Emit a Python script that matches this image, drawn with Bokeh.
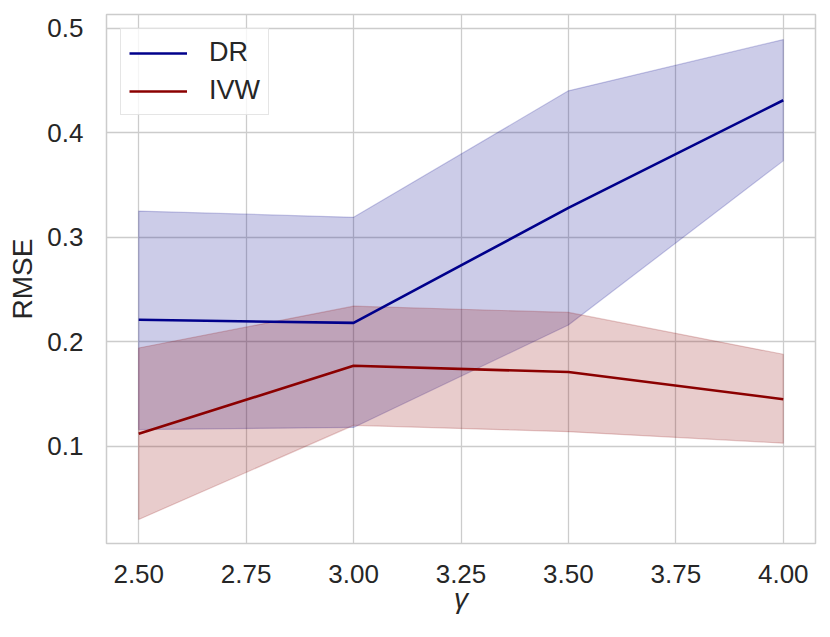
from bokeh.plotting import figure
from bokeh.models import Range1d, FixedTicker, NumeralTickFormatter, Legend, LegendItem
from bokeh.embed import file_html
from bokeh.resources import INLINE

# ---- data ----
gamma = [2.5, 3.0, 3.5, 4.0]
dr_mean = [0.221, 0.218, 0.328, 0.431]
dr_upper = [0.325, 0.319, 0.440, 0.489]
dr_lower = [0.116, 0.118, 0.216, 0.373]
ivw_mean = [0.112, 0.177, 0.171, 0.145]
ivw_upper = [0.194, 0.234, 0.228, 0.188]
ivw_lower = [0.030, 0.120, 0.114, 0.103]
x_ticks = [2.5, 2.75, 3.0, 3.25, 3.5, 3.75, 4.0]
y_ticks = [0.1, 0.2, 0.3, 0.4, 0.5]

FONT = "Liberation Sans"
TXT = "#262626"
GRID = "#cccccc"

p = figure(frame_width=709, frame_height=529,
           min_border_left=106, min_border_top=14, min_border_right=7, min_border_bottom=86,
           x_range=Range1d(2.425, 4.075), y_range=Range1d(0.007, 0.513),
           output_backend="svg", toolbar_location=None,
           background_fill_color="white", border_fill_color="white")

p.outline_line_color = GRID
p.outline_line_width = 1.5

for ax in (p.xaxis[0], p.yaxis[0]):
    ax.axis_line_color = None
    ax.major_tick_line_color = None
    ax.minor_tick_line_color = None
    ax.major_label_text_font = FONT
    ax.major_label_text_font_size = "26px"
    ax.major_label_text_color = TXT
    ax.axis_label_text_font = FONT
    ax.axis_label_text_font_size = "28px"
    ax.axis_label_text_color = TXT
    ax.axis_label_text_font_style = "normal"

p.xaxis.ticker = FixedTicker(ticks=x_ticks)
p.xaxis.formatter = NumeralTickFormatter(format="0.00")
p.yaxis.ticker = FixedTicker(ticks=y_ticks)
p.yaxis.formatter = NumeralTickFormatter(format="0.0")
p.xaxis.major_label_standoff = 15
p.yaxis.major_label_standoff = 17
p.xaxis.axis_label = "γ"
p.xaxis.axis_label_text_font_style = "italic"
p.xaxis.axis_label_standoff = -3
p.yaxis.axis_label = "RMSE"
p.yaxis.axis_label_standoff = 6

p.grid.grid_line_color = GRID
p.grid.grid_line_width = 1.3
p.xgrid.ticker = FixedTicker(ticks=x_ticks)
p.ygrid.ticker = FixedTicker(ticks=y_ticks)

def band(lower, upper, color):
    xs = list(gamma) + list(gamma[::-1])
    ys = list(upper) + list(lower[::-1])
    p.patch(xs, ys, fill_color=color, fill_alpha=0.2, line_color=color, line_alpha=0.2, line_width=1.2)

band(dr_lower, dr_upper, "#00008B")
band(ivw_lower, ivw_upper, "#8B0000")
l_dr = p.line(gamma, dr_mean, line_color="#00008B", line_width=2.6)
l_ivw = p.line(gamma, ivw_mean, line_color="#8B0000", line_width=2.6)

legend = Legend(items=[LegendItem(label="DR", renderers=[l_dr]),
                       LegendItem(label="IVW", renderers=[l_ivw])],
                location="top_left", margin=14, padding=8, spacing=7,
                glyph_width=58, glyph_height=24, label_height=24, label_standoff=22,
                label_text_font=FONT, label_text_font_size="27px", label_text_color=TXT,
                border_line_color=GRID, border_line_width=1.5,
                background_fill_color="white", background_fill_alpha=0.8)
p.add_layout(legend)

open("out.html", "w").write(file_html(p, INLINE))
